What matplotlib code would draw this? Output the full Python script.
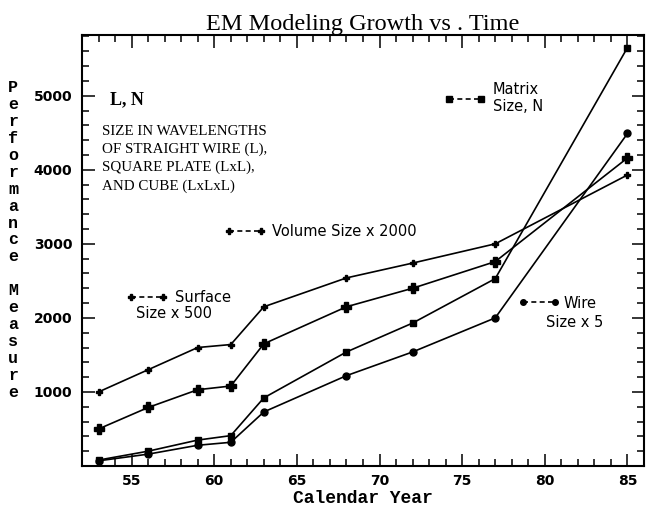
import matplotlib
matplotlib.use('Agg')
import matplotlib.pyplot as plt
from matplotlib.lines import Line2D
from matplotlib.legend import Legend
from matplotlib.ticker import MultipleLocator

# data
years = [53, 56, 59, 61, 63, 68, 72, 77, 85]
volume = [1000, 1300, 1600, 1640, 2150, 2540, 2740, 3000, 3930]    # volume size x 2000
surface = [500, 790, 1030, 1080, 1650, 2150, 2400, 2760, 4160]     # surface size x 500
matrix = [80, 200, 350, 410, 920, 1540, 1930, 2530, 5650]          # matrix size N
wire = [70, 160, 280, 320, 730, 1220, 1540, 2000, 4490]            # wire size x 5

xticks = [55, 60, 65, 70, 75, 80, 85]
yticks = [1000, 2000, 3000, 4000, 5000]

fig = plt.figure(figsize=(6.53, 5.11), dpi=100)
ax = fig.add_axes([82/653, 45/511, 562/653, 431/511])

line_kw = dict(color='black', lw=1.2)
ax.plot(years, volume, marker='P', ms=5, **line_kw)
ax.plot(years, surface, marker='P', ms=6.5, **line_kw)
ax.plot(years, matrix, marker='s', ms=5, **line_kw)
ax.plot(years, wire, marker='o', ms=5, **line_kw)

ax.set_xlim(52, 86)
ax.set_ylim(0, 5820)
ax.set_xticks(xticks)
ax.set_yticks(yticks)
ax.xaxis.set_minor_locator(MultipleLocator(1))
ax.yaxis.set_minor_locator(MultipleLocator(200))
ax.tick_params(which='both', direction='in', top=True, right=True, width=1.1)
ax.tick_params(which='major', length=9)
ax.tick_params(which='minor', length=5)
ax.tick_params(axis='y', pad=7)
ax.tick_params(axis='x', pad=6)
for lab in ax.get_xticklabels() + ax.get_yticklabels():
    lab.set_fontweight('bold')
    lab.set_fontsize(10)
    lab.set_family('DejaVu Sans')
for sp in ax.spines.values():
    sp.set_linewidth(1.5)

ax.set_title('EM Modeling Growth vs . Time', family='Liberation Serif', fontsize=17.5, pad=3)
ax.set_xlabel('Calendar Year', family='Liberation Mono', fontweight='bold', fontsize=13, labelpad=1)

# vertical stacked y label
fig.text(13/653, 1 - 240/511, '\n'.join('Performance Measure'), family='Liberation Mono',
         fontweight='bold', fontsize=12, ha='center', va='center', linespacing=1.16)

ax.text(0.05, 0.849, 'L, N', transform=ax.transAxes, family='Liberation Serif',
        fontweight='bold', fontsize=13, va='center')
ax.text(0.036, 0.792, 'SIZE IN WAVELENGTHS\nOF STRAIGHT WIRE (L),\nSQUARE PLATE (LxL),\nAND CUBE (LxLxL)',
        transform=ax.transAxes, family='Liberation Serif', fontsize=10.8, va='top', linespacing=1.47)

# series keys
def key(marker, ms, label, x, y, pad=0.5):
    h = Line2D([0], [0], color='black', lw=1.2, ls=(0, (3, 2)), marker=marker, ms=ms)
    lg = Legend(ax, [h], [label], loc='center left', bbox_to_anchor=(x, y), frameon=False,
                borderpad=0, borderaxespad=0, handlelength=2.8, handletextpad=pad,
                numpoints=2, prop={'family': 'DejaVu Sans', 'size': 10.5})
    ax.add_artist(lg)

key('s', 4, 'Matrix\nSize, N', 0.645, 0.854)
key('P', 4, 'Volume Size x 2000', 0.253, 0.545)
key('P', 5, 'Surface', 0.08, 0.390)
key('o', 4, 'Wire', 0.777, 0.378, pad=0.3)
ax.text(0.096, 0.353, 'Size x 500', transform=ax.transAxes, family='DejaVu Sans', fontsize=10.5, va='center')
ax.text(0.826, 0.334, 'Size x 5', transform=ax.transAxes, family='DejaVu Sans', fontsize=10.5, va='center')

fig.savefig('out.png', dpi=100)
